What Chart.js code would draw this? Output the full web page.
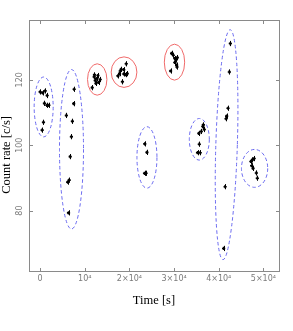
<!DOCTYPE html>
<html>
<head>
<meta charset="utf-8">
<script src="https://cdn.jsdelivr.net/npm/chart.js@4.4.0/dist/chart.umd.min.js"></script>
<style>
html,body{margin:0;padding:0;background:#fff;}
canvas{display:block;}
</style>
</head>
<body>
<canvas id="c" width="293" height="331"></canvas>
<script>
// ---- data ----
const timeValues = [
  0, 560, 1120, 1570, 960, 1500, 1950, 740, 450,
  7620, 7510, 5870, 7220, 7000, 6730, 6170, 6500, 6350,
  11660, 12110, 12330, 12710, 13070, 13450, 12490, 12940, 12170,
  17420, 17780, 18160, 18720, 18720, 19280, 19120, 18430, 19510, 17940,
  23430, 23920, 23380, 23720,
  29440, 29820, 30150, 30720, 30150, 30560, 30650, 29210, 30380,
  36430, 36770, 36100, 35540, 35650, 35250, 35850, 36550,
  42600, 42380, 42080, 41770, 41640, 41430, 41100,
  47200, 47530, 47940, 47370, 47690, 48430, 48650
];
const rateValues = [
  116.3, 116.0, 116.6, 115.2, 112.8, 112.2, 112.2, 107.0, 104.6,
  117.1, 112.7, 109.1, 107.3, 102.6, 96.5, 88.7, 89.3, 79.3,
  117.6, 120.9, 119.8, 120.4, 119.2, 120.1, 118.9, 121.3, 121.5,
  121.2, 121.9, 123.2, 123.1, 121.8, 124.9, 121.6, 119.4, 121.9, 122.7,
  100.4, 97.8, 91.4, 91.4,
  128.1, 127.5, 126.5, 126.8, 125.3, 124.5, 123.9, 122.7, 126.1,
  105.7, 104.8, 104.2, 103.6, 100.3, 97.7, 97.7, 106.2,
  131.1, 122.4, 111.3, 108.9, 108.1, 87.3, 68.4,
  95.0, 95.5, 95.9, 93.7, 92.9, 91.5, 89.9
];
const rateError = 0.8;

// groups (ellipses) in data units
const groupCenterT = [785, 7020, 12780, 18790, 23920, 30090, 35650, 41760, 48030];
const groupCenterR = [111.7, 98.75, 120.1, 122.35, 96.25, 125.4, 101.8, 100.15, 92.9];
const groupHalfT   = [2130, 2690, 2170, 2880, 2240, 2280, 2240, 2410, 2940];
const groupHalfR   = [9.16, 24.4, 4.8, 4.67, 9.4, 5.5, 6.36, 35.2, 5.8];
const groupTiltDeg = [0, 0, 0, 0, 0, 0, 0, 1.8, 0];
const groupKind    = ['var', 'var', 'stable', 'stable', 'var', 'stable', 'var', 'var', 'var'];

const xTickValues = [0, 10000, 20000, 30000, 40000, 50000];
const xTickLabels = ['0', '10\u2074', '2\u00d710\u2074', '3\u00d710\u2074', '4\u00d710\u2074', '5\u00d710\u2074'];
const yTickValues = [80, 100, 120];
const yTickLabels = ['80', '100', '120'];

const points = timeValues.map((t, i) => ({x: t, y: rateValues[i]}));

const AXIS_COLOR = '#8a8a8a';

const framePlugin = {
  id: 'frame',
  afterDatasetsDraw(chart) {
    const {ctx, chartArea: a, scales: {x, y}} = chart;
    ctx.save();
    // error bars
    ctx.strokeStyle = '#000';
    ctx.lineWidth = 1;
    points.forEach(p => {
      const px = Math.round(x.getPixelForValue(p.x)) + 0.5;
      const y1 = y.getPixelForValue(p.y - rateError);
      const y2 = y.getPixelForValue(p.y + rateError);
      ctx.beginPath(); ctx.moveTo(px, y1); ctx.lineTo(px, y2); ctx.stroke();
    });
    // group ellipses
    groupCenterT.forEach((ct, i) => {
      const cx = x.getPixelForValue(ct);
      const cy = y.getPixelForValue(groupCenterR[i]);
      const rx = Math.abs(x.getPixelForValue(ct + groupHalfT[i]) - cx);
      const ry = Math.abs(y.getPixelForValue(groupCenterR[i] + groupHalfR[i]) - cy);
      ctx.beginPath();
      ctx.ellipse(cx, cy, rx, ry, groupTiltDeg[i] * Math.PI / 180, 0, Math.PI * 2);
      if (groupKind[i] === 'stable') {
        ctx.setLineDash([]);
        ctx.strokeStyle = '#f06a6a';
      } else {
        ctx.setLineDash([3.5, 2.5]);
        ctx.strokeStyle = '#6a6af0';
      }
      ctx.lineWidth = 1;
      ctx.stroke();
    });
    ctx.setLineDash([]);
    // frame box
    ctx.strokeStyle = AXIS_COLOR;
    ctx.lineWidth = 1;
    const L = Math.round(a.left) + 0.5, R = Math.round(a.right) + 0.5;
    const T = Math.round(a.top) + 0.5, B = Math.round(a.bottom) + 0.5;
    ctx.strokeRect(L, T, R - L, B - T);
    const tl = 3.5;
    xTickValues.forEach(v => {
      const px = Math.round(x.getPixelForValue(v)) + 0.5;
      ctx.beginPath();
      ctx.moveTo(px, B); ctx.lineTo(px, B - tl);
      ctx.moveTo(px, T); ctx.lineTo(px, T + tl);
      ctx.stroke();
    });
    yTickValues.forEach(v => {
      const py = Math.round(y.getPixelForValue(v)) + 0.5;
      ctx.beginPath();
      ctx.moveTo(L, py); ctx.lineTo(L + tl, py);
      ctx.moveTo(R, py); ctx.lineTo(R - tl, py);
      ctx.stroke();
    });
    ctx.restore();
  }
};

new Chart(document.getElementById('c'), {
  type: 'scatter',
  data: {
    datasets: [{
      data: points,
      pointStyle: 'cross',
      pointRadius: 1.6,
      pointBorderWidth: 1.6,
      borderColor: '#000',
      backgroundColor: '#000'
    }]
  },
  options: {
    responsive: false,
    animation: false,
    events: [],
    layout: {padding: {top: 20, right: 14, left: 0, bottom: 0}},
    plugins: {legend: {display: false}, tooltip: {enabled: false}},
    scales: {
      x: {
        type: 'linear',
        min: -2500,
        max: 53500,
        afterBuildTicks: s => { s.ticks = xTickValues.map(v => ({value: v})); },
        afterFit: s => { s.height = 60; },
        ticks: {
          callback: v => xTickLabels[xTickValues.indexOf(v)],
          color: '#7a7a7a',
          font: {family: 'DejaVu Sans', size: 8},
          padding: 3,
          maxRotation: 0,
          minRotation: 0,
          autoSkip: false
        },
        grid: {display: false, drawTicks: false},
        border: {display: false},
        title: {
          display: true,
          text: 'Time [s]',
          color: '#000',
          font: {family: 'Liberation Serif', size: 12.5, lineHeight: 1},
          padding: {top: 0, bottom: 24}
        }
      },
      y: {
        type: 'linear',
        min: 61.5,
        max: 138.3,
        afterBuildTicks: s => { s.ticks = yTickValues.map(v => ({value: v})); },
        afterFit: s => { s.width = 29; },
        ticks: {
          callback: v => yTickLabels[yTickValues.indexOf(v)],
          color: '#7a7a7a',
          font: {family: 'DejaVu Sans', size: 8},
          padding: 1,
          minRotation: 90,
          maxRotation: 90,
          crossAlign: 'center',
          autoSkip: false
        },
        grid: {display: false, drawTicks: false},
        border: {display: false},
        title: {
          display: true,
          text: 'Count rate [c/s]      ',
          color: '#000',
          font: {family: 'Liberation Serif', size: 12.5, lineHeight: 1},
          padding: {top: 0, bottom: 0}
        }
      }
    }
  },
  plugins: [framePlugin]
});
</script>
</body>
</html>
